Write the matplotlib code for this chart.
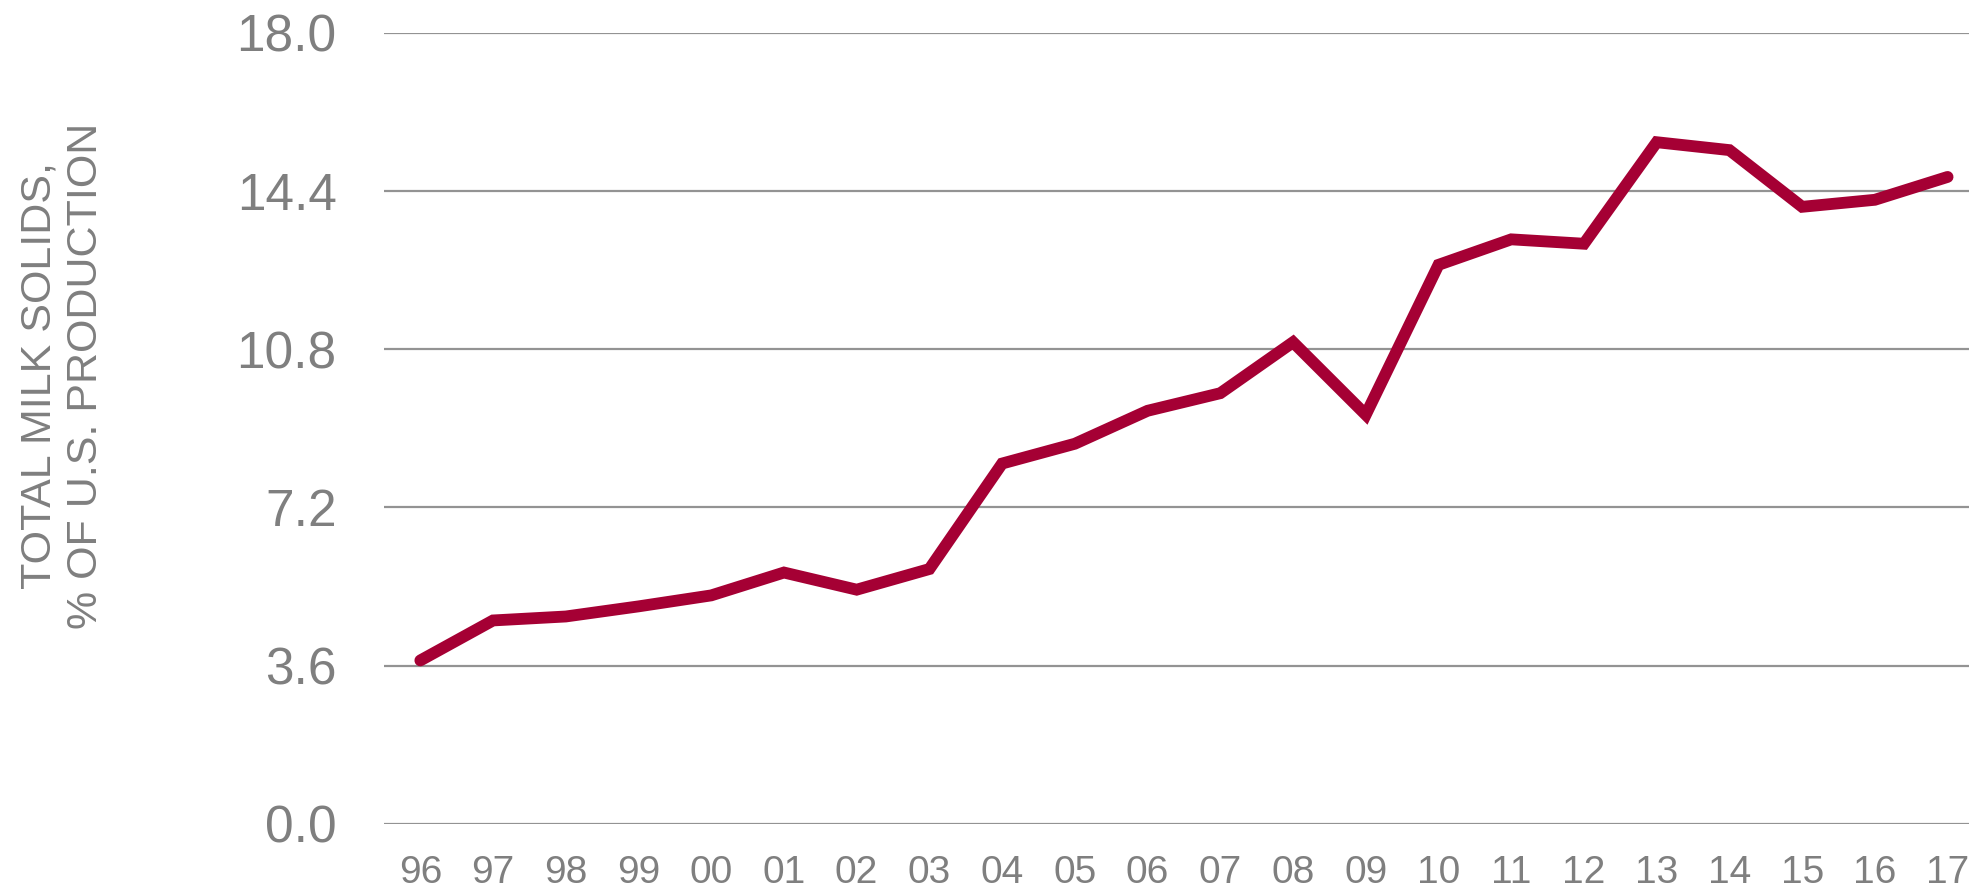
# Milk solids share of U.S. production, 1996-2017
import matplotlib
matplotlib.use("Agg")
import matplotlib.pyplot as plt

# Data
years = ['96', '97', '98', '99', '00', '01', '02', '03', '04', '05', '06',
         '07', '08', '09', '10', '11', '12', '13', '14', '15', '16', '17']
share = [3.72, 4.63, 4.72, 4.95, 5.20, 5.72, 5.33, 5.80, 8.20, 8.65, 9.40,
         9.80, 10.96, 9.31, 12.72, 13.30, 13.20, 15.51, 15.33, 14.04, 14.20, 14.72]
yticks = [0.0, 3.6, 7.2, 10.8, 14.4, 18.0]

plt.rcParams['font.family'] = ['Liberation Sans', 'DejaVu Sans']
text_grey = '#7f7f7f'

fig = plt.figure(figsize=(19.69, 8.9), dpi=100)
ax = fig.add_axes([0.195, 0.0742, 0.8126, 0.889])

x = list(range(len(years)))
ax.plot(x, share, color='#A50034', lw=8.5, solid_capstyle='round',
        solid_joinstyle='miter', zorder=3)

# axes, grid
ax.set_xlim(-0.5, len(years) - 0.5)
ax.set_ylim(0, 18)
ax.set_yticks(yticks)
ax.set_yticklabels([f'{v:.1f}' for v in yticks])
ax.set_xticks(x)
ax.set_xticklabels(years)
ax.grid(axis='y', color='#939393', lw=1.6)
ax.set_axisbelow(True)
for s in ax.spines.values():
    s.set_visible(False)
ax.tick_params(axis='y', length=0, pad=34, labelsize=37, labelcolor=text_grey)
ax.tick_params(axis='x', length=0, pad=22, labelsize=28, labelcolor=text_grey)

# y axis title
fig.text(0.032, 0.578, 'TOTAL MILK SOLIDS,\n% OF U.S. PRODUCTION', rotation=90,
         ha='center', va='center', multialignment='center', fontsize=31,
         color=text_grey, linespacing=1.2)

fig.savefig('out.png', dpi=100)
